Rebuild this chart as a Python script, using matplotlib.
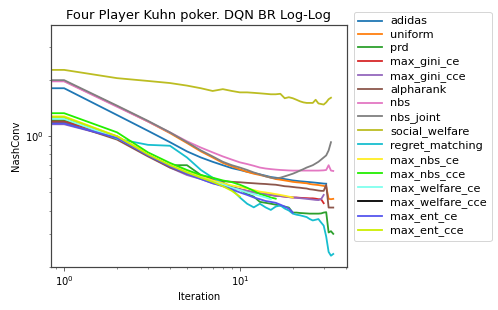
import numpy as np
import matplotlib
matplotlib.use("Agg")
import matplotlib.pyplot as plt

title = "Four Player Kuhn poker. DQN BR Log-Log"
xlabel = "Iteration"
ylabel = "NashConv"

init_value = 3.45  # NashConv at iteration 0 (shared initial policy)

adidas = [1.81, 1.30, 1.07, 0.93, 0.83, 0.77, 0.73, 0.70, 0.675, 0.66, 0.645, 0.635, 0.625, 0.615, 0.605, 0.60,
          0.595, 0.59, 0.585, 0.58, 0.577, 0.574, 0.572, 0.57, 0.568, 0.566, 0.564, 0.562, 0.56, 0.558, 0.557]
uniform = [1.98, 1.45, 1.20, 1.04, 0.92, 0.83, 0.77, 0.72, 0.69, 0.665, 0.645, 0.63, 0.62, 0.61, 0.60, 0.59,
           0.585, 0.58, 0.575, 0.57, 0.567, 0.565, 0.562, 0.56, 0.555, 0.552, 0.55, 0.548, 0.545, 0.542, 0.538,
           0.462, 0.46, 0.462]
prd = [1.22, 0.99, 0.80, 0.70, 0.70, 0.62, 0.59, 0.565, 0.535, 0.52, 0.49, 0.475, 0.445, 0.44, 0.435, 0.43,
       0.425, 0.42, 0.415, 0.39, 0.39, 0.388, 0.387, 0.386, 0.385, 0.385, 0.385, 0.385, 0.386, 0.39, 0.392,
       0.305, 0.31, 0.30]
max_gini_ce = [1.20, 1.00, 0.80, 0.70, 0.64, 0.60, 0.57, 0.55, 0.53, 0.52, 0.51, 0.50, 0.495, 0.49, 0.485,
               0.48, 0.478, 0.475, 0.472, 0.47, 0.47, 0.468, 0.467, 0.466, 0.465, 0.465, 0.463, 0.46, 0.46, 0.438]
max_gini_cce = [1.16, 0.98, 0.79, 0.68, 0.62, 0.59, 0.56, 0.545, 0.53, 0.52, 0.51, 0.50, 0.495, 0.49, 0.485,
                0.48, 0.478, 0.475, 0.472, 0.47, 0.468, 0.466, 0.464, 0.462, 0.46, 0.458, 0.456, 0.455, 0.46,
                0.485]
alpharank = [1.19, 0.96, 0.78, 0.68, 0.63, 0.60, 0.585, 0.575, 0.57, 0.567, 0.563, 0.56, 0.557, 0.555, 0.552,
             0.55, 0.545, 0.54, 0.538, 0.535, 0.532, 0.53, 0.527, 0.525, 0.52, 0.518, 0.515, 0.512, 0.51, 0.51,
             0.55, 0.415, 0.415, 0.415]
nbs = [1.97, 1.44, 1.20, 1.05, 0.94, 0.87, 0.82, 0.78, 0.75, 0.725, 0.71, 0.695, 0.68, 0.672, 0.667, 0.663,
       0.66, 0.658, 0.656, 0.655, 0.655, 0.655, 0.655, 0.655, 0.655, 0.655, 0.655, 0.655, 0.656, 0.657, 0.66,
       0.70, 0.655, 0.652]
nbs_joint = [2.00, 1.46, 1.21, 1.05, 0.93, 0.84, 0.78, 0.73, 0.70, 0.68, 0.66, 0.64, 0.625, 0.61, 0.60, 0.595,
             0.60, 0.61, 0.62, 0.63, 0.642, 0.655, 0.667, 0.68, 0.69, 0.70, 0.715, 0.73, 0.75, 0.77, 0.79,
             0.84, 0.93]
social_welfare = [2.27, 2.05, 1.98, 1.93, 1.87, 1.81, 1.75, 1.79, 1.75, 1.72, 1.72, 1.71, 1.70, 1.69, 1.68,
                  1.68, 1.69, 1.60, 1.62, 1.60, 1.57, 1.54, 1.52, 1.51, 1.51, 1.51, 1.57, 1.50, 1.49, 1.48,
                  1.52, 1.58, 1.61]
regret_matching = [1.25, 0.97, 0.90, 0.89, 0.77, 0.66, 0.60, 0.56, 0.52, 0.47, 0.435, 0.416, 0.435, 0.416,
                   0.403, 0.42, 0.426, 0.41, 0.40, 0.385, 0.38, 0.377, 0.373, 0.369, 0.36, 0.354, 0.357, 0.36,
                   0.345, 0.332, 0.29, 0.24, 0.229, 0.234]
max_nbs_ce = [1.28, 1.00, 0.81, 0.71, 0.65, 0.61, 0.58, 0.56, 0.545, 0.535, 0.525, 0.515, 0.505, 0.50, 0.495,
              0.49, 0.485, 0.48, 0.475, 0.47]
max_nbs_cce = [1.33, 1.05, 0.82, 0.72, 0.66, 0.62, 0.60, 0.58, 0.568, 0.55, 0.53, 0.51, 0.49, 0.48, 0.47, 0.463]
max_welfare_ce = [1.24, 0.98, 0.80, 0.70, 0.64, 0.60, 0.57, 0.55, 0.53, 0.515, 0.50, 0.49, 0.48, 0.47, 0.46]
max_welfare_cce = []
max_ent_ce = [1.17, 0.98, 0.79, 0.69, 0.63, 0.59, 0.56, 0.54, 0.52, 0.50, 0.485, 0.47, 0.46, 0.45, 0.445,
              0.44, 0.43, 0.42, 0.41, 0.39]
max_ent_cce = [1.27, 1.00, 0.80, 0.70, 0.64, 0.60, 0.57, 0.54, 0.51, 0.475]

series = [
    ("adidas", adidas, "#1f77b4"),
    ("uniform", uniform, "#ff7f0e"),
    ("prd", prd, "#2ca02c"),
    ("max_gini_ce", max_gini_ce, "#d62728"),
    ("max_gini_cce", max_gini_cce, "#9467bd"),
    ("alpharank", alpharank, "#8c564b"),
    ("nbs", nbs, "#e377c2"),
    ("nbs_joint", nbs_joint, "#7f7f7f"),
    ("social_welfare", social_welfare, "#bcbd22"),
    ("regret_matching", regret_matching, "#17becf"),
    ("max_nbs_ce", max_nbs_ce, "#ffee22"),
    ("max_nbs_cce", max_nbs_cce, "#22ee00"),
    ("max_welfare_ce", max_welfare_ce, "#80ffee"),
    ("max_welfare_cce", max_welfare_cce, "#000000"),
    ("max_ent_ce", max_ent_ce, "#5555ee"),
    ("max_ent_cce", max_ent_cce, "#ccee00"),
]

fig = plt.figure(figsize=(498 / 72, 310 / 72), dpi=72)
ax = fig.add_axes([50.7 / 498, 1 - 266.7 / 310, (346.7 - 50.7) / 498, (266.7 - 25) / 310])

for name, vals, color in series:
    if len(vals):
        y = [init_value] + list(vals)
        x = np.arange(len(y))
    else:
        x, y = [], []
    ax.plot(x, y, color=color, label=name, lw=1.8)

ax.set_xscale("log")
ax.set_yscale("log")
ax.set_title(title, fontsize=13)
ax.set_xlabel(xlabel)
ax.set_ylabel(ylabel)
for s in ax.spines.values():
    s.set_color("#444444")
    s.set_linewidth(1.2)
ax.tick_params(which="both", color="#444444")
ax.legend(loc="upper left", bbox_to_anchor=(354 / 498, 1 - 12 / 310), bbox_transform=fig.transFigure,
          borderaxespad=0, fontsize=11.2, labelspacing=0.3, handletextpad=0.75, borderpad=0.4,
          handlelength=2.1)
fig.savefig("out.png", dpi=72)
